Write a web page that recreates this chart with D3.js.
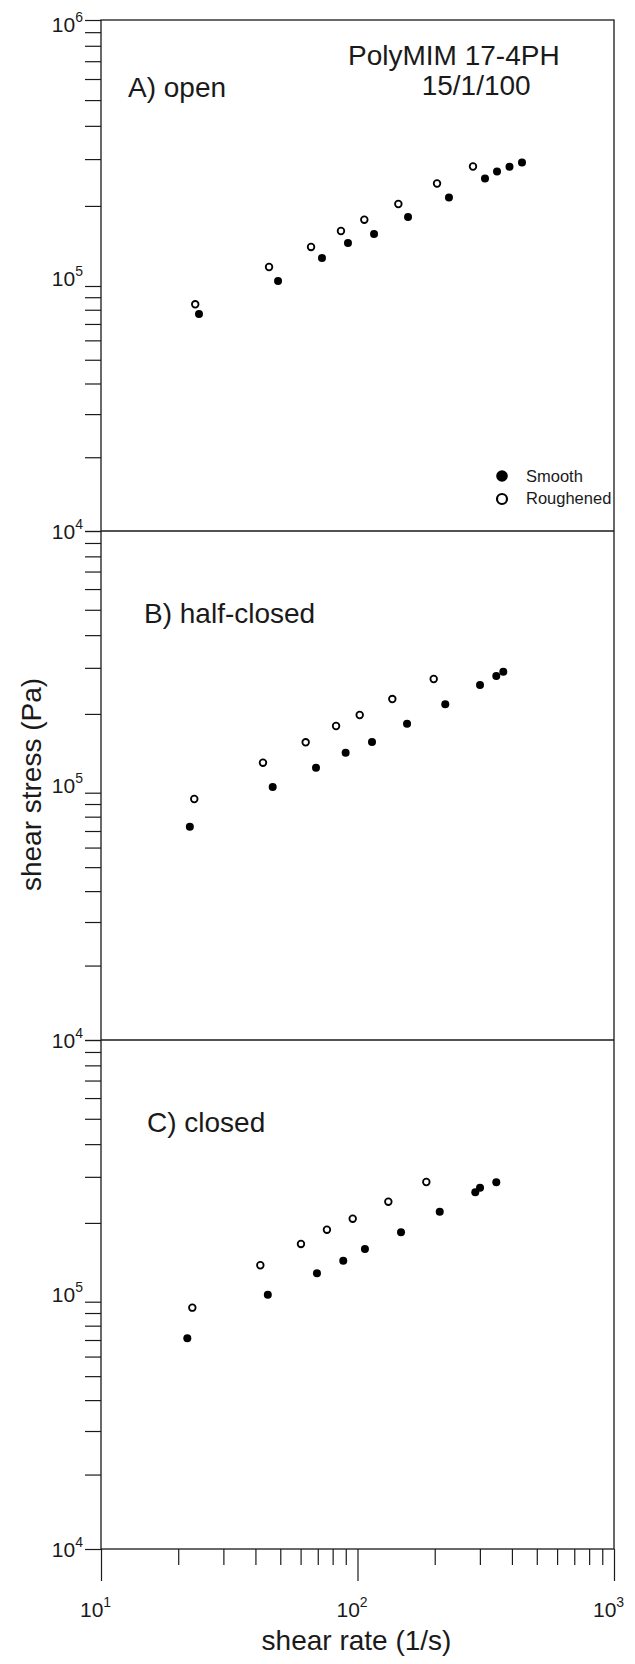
<!DOCTYPE html>
<html>
<head>
<meta charset="utf-8">
<script src="https://cdn.jsdelivr.net/npm/d3@7"></script>
<style>
  html, body { margin: 0; padding: 0; background: #fff; }
  svg { display: block; font-family: "Liberation Sans", Arial, sans-serif; }
</style>
</head>
<body>
<svg id="chart" width="635" height="1664"></svg>
<script>
// PolyMIM 17-4PH, 15/1/100 – wall shear stress vs. shear rate for three valve settings

const panelLabels = ["A) open", "B) half-closed", "C) closed"];
const seriesNames = ["Smooth", "Roughened"];

// Panel A: open
const openSmoothRate      = [24.1, 49.0, 72.7, 91.8, 116.0, 157.4, 227.3, 314.1, 349.9, 391.4, 437.8];
const openSmoothStress    = [76900, 104400, 127400, 145100, 156900, 181700, 215100, 253800, 269400, 280900, 291500];
const openRoughRate       = [23.3, 45.2, 65.9, 86.2, 106.3, 144.3, 204.2, 282.0];
const openRoughStress     = [84200, 117900, 140200, 161000, 177500, 203400, 242800, 281400];

// Panel B: half-closed
const halfSmoothRate      = [22.2, 46.7, 68.9, 89.9, 113.9, 156.0, 219.9, 300.4, 347.6, 370.2];
const halfSmoothStress    = [72900, 105100, 124600, 142200, 156200, 183500, 217700, 257900, 279200, 290000];
const halfRoughRate       = [23.1, 42.8, 62.8, 82.5, 102.0, 136.7, 198.2];
const halfRoughStress     = [94300, 130200, 155800, 179800, 198100, 228000, 271900];

// Panel C: closed
const closedSmoothRate    = [21.7, 44.7, 69.5, 88.0, 106.9, 147.8, 209.2, 287.9, 300.4, 347.6];
const closedSmoothStress  = [71100, 106300, 128400, 143500, 159000, 184100, 220800, 261800, 272600, 285900];
const closedRoughRate     = [22.7, 41.8, 60.2, 76.0, 95.8, 131.9, 185.5];
const closedRoughStress   = [94600, 137800, 166200, 188400, 207600, 241100, 286700];

// axis tick decades
const xMajorTicks = [10, 100, 1000];
const yMajorTicks = [1e4, 1e5, 1e6];

const panelData = [
  { smooth: [openSmoothRate, openSmoothStress],     rough: [openRoughRate, openRoughStress] },
  { smooth: [halfSmoothRate, halfSmoothStress],     rough: [halfRoughRate, halfRoughStress] },
  { smooth: [closedSmoothRate, closedSmoothStress], rough: [closedRoughRate, closedRoughStress] }
];

// ---- layout ----
const left = 101, right = 614;
const panelTop = [20, 531, 1040];
const panelMid = [286, 792.7, 1301.7];   // position of the 10^5 gridline
const panelBottom = [531, 1040, 1549];
const labelPos = [[128, 96.7], [144, 623.3], [147, 1132]];

const svg = d3.select("#chart");
const ink = "#1a1a1a";

const x = d3.scaleLog().domain([10, 1000]).range([left, right]);

function minorTicks(lo, hi) {
  const out = [];
  for (let e = Math.log10(lo); e < Math.log10(hi); e++) {
    for (let k = 1; k <= 9; k++) out.push(k * Math.pow(10, e));
  }
  out.push(hi);
  return out;
}

const yTickValues = minorTicks(1e4, 1e6);
const xTickValues = minorTicks(10, 1000);

panelData.forEach((pd, i) => {
  const y = d3.scaleLog()
    .domain([1e4, 1e5, 1e6])
    .range([panelBottom[i], panelMid[i], panelTop[i]]);

  // y ticks (outward, all same length)
  const yAxis = svg.append("g")
    .attr("transform", `translate(${left},0)`)
    .call(d3.axisLeft(y).tickValues(yTickValues).tickSize(16).tickSizeOuter(0).tickFormat(""));
  yAxis.select(".domain").remove();
  yAxis.selectAll(".tick line").attr("stroke", ink).attr("stroke-width", 1.2);

  // y tick labels
  yMajorTicks.forEach(v => {
    const exp = Math.round(Math.log10(v));
    if (i > 0 && exp === 6) return;           // shared with the panel above
    let base = y(v);
    if (exp === 6) base = y(v) + 12;
    if (exp === 4) base = y(v) + 8;
    const t = svg.append("text")
      .attr("x", 83).attr("y", base)
      .attr("text-anchor", "end")
      .attr("font-size", 21).attr("fill", ink);
    t.append("tspan").text("10");
    t.append("tspan").attr("dy", -10).attr("font-size", 14).text(exp);
  });

  // panel label
  svg.append("text")
    .attr("x", labelPos[i][0]).attr("y", labelPos[i][1])
    .attr("font-size", 28).attr("fill", ink)
    .text(panelLabels[i]);

  // roughened (open) markers
  svg.append("g").selectAll("circle")
    .data(d3.zip(pd.rough[0], pd.rough[1]))
    .join("circle")
    .attr("cx", d => x(d[0])).attr("cy", d => y(d[1]))
    .attr("r", 3.3)
    .attr("fill", "#fff").attr("stroke", "#000").attr("stroke-width", 1.8);

  // smooth (filled) markers
  svg.append("g").selectAll("circle")
    .data(d3.zip(pd.smooth[0], pd.smooth[1]))
    .join("circle")
    .attr("cx", d => x(d[0])).attr("cy", d => y(d[1]))
    .attr("r", 4)
    .attr("fill", "#000");
});

// frame and panel separators
svg.append("rect")
  .attr("x", left).attr("y", panelTop[0])
  .attr("width", right - left).attr("height", panelBottom[2] - panelTop[0])
  .attr("fill", "none").attr("stroke", ink).attr("stroke-width", 1.3);
[panelBottom[0], panelBottom[1]].forEach(yy => {
  svg.append("line")
    .attr("x1", left).attr("x2", right).attr("y1", yy).attr("y2", yy)
    .attr("stroke", ink).attr("stroke-width", 1.3);
});

// x axis: minor and major ticks
const xAxis = svg.append("g")
  .attr("transform", `translate(0,${panelBottom[2]})`)
  .call(d3.axisBottom(x).tickValues(xTickValues).tickSize(16).tickSizeOuter(0).tickFormat(""));
xAxis.select(".domain").remove();
xAxis.selectAll(".tick line")
  .attr("stroke", ink).attr("stroke-width", 1.2)
  .attr("y2", d => xMajorTicks.includes(d) ? 32 : 16);

xMajorTicks.forEach(v => {
  const t = svg.append("text")
    .attr("x", x(v) - 21).attr("y", 1617)
    .attr("font-size", 21).attr("fill", ink);
  t.append("tspan").text("10");
  t.append("tspan").attr("dy", -10).attr("font-size", 14).text(Math.round(Math.log10(v)));
});

// axis titles
svg.append("text")
  .attr("x", (left + right) / 2 - 1).attr("y", 1650)
  .attr("text-anchor", "middle").attr("font-size", 28).attr("fill", ink)
  .text("shear rate (1/s)");
svg.append("text")
  .attr("transform", `translate(41,${(panelTop[0] + panelBottom[2]) / 2}) rotate(-90)`)
  .attr("text-anchor", "middle").attr("font-size", 28).attr("fill", ink)
  .text("shear stress (Pa)");

// title block
svg.append("text").attr("x", 348).attr("y", 65)
  .attr("font-size", 28).attr("fill", ink).text("PolyMIM 17-4PH");
svg.append("text").attr("x", 421.7).attr("y", 95)
  .attr("font-size", 28).attr("fill", ink).text("15/1/100");

// legend
const legend = svg.append("g");
legend.append("circle").attr("cx", 502).attr("cy", 476).attr("r", 5.8).attr("fill", "#000");
legend.append("circle").attr("cx", 502).attr("cy", 499).attr("r", 5).attr("fill", "#fff")
  .attr("stroke", "#000").attr("stroke-width", 2.2);
legend.append("text").attr("x", 526).attr("y", 482).attr("font-size", 16.5).attr("fill", ink).text(seriesNames[0]);
legend.append("text").attr("x", 526).attr("y", 504).attr("font-size", 16.5).attr("fill", ink).text(seriesNames[1]);
</script>
</body>
</html>
